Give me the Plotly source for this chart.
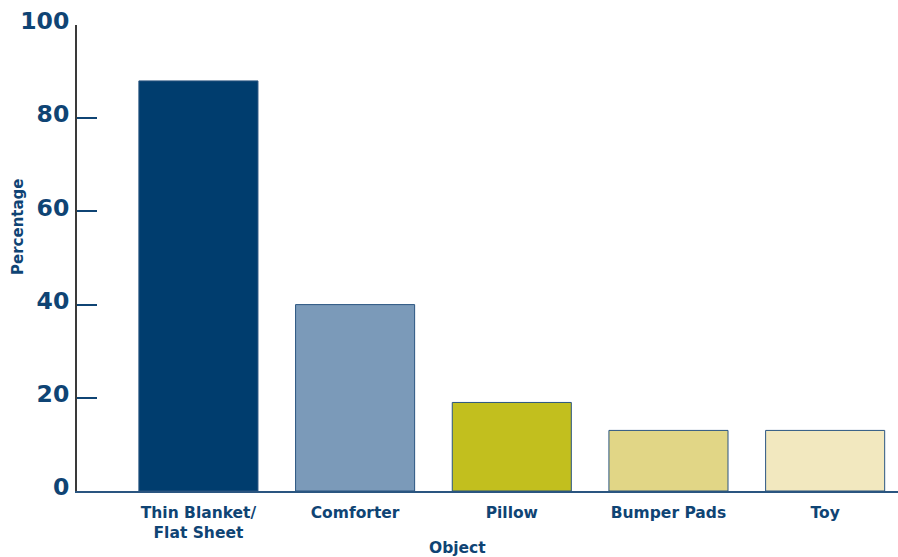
import plotly.graph_objects as go

# Objects found in infant sleep areas
objects = ["Thin Blanket/<br>Flat Sheet", "Comforter", "Pillow", "Bumper Pads", "Toy"]
percentages = [88, 40, 19, 13, 13]
bar_colors = ["#003D6E", "#7B9AB9", "#C2BF1E", "#E1D686", "#F2E8BF"]
y_ticks = [0, 20, 40, 60, 80, 100]

navy = "#0F4474"
font_family = "Verdana, DejaVu Sans, sans-serif"

fig = go.Figure(
    go.Bar(
        x=list(range(len(objects))),
        y=percentages,
        marker=dict(color=bar_colors, line=dict(color="#2A5580", width=1)),
        width=0.76,
        hoverinfo="skip",
    )
)

fig.update_layout(
    width=898,
    height=557,
    margin=dict(l=77, r=0, t=25, b=66),
    paper_bgcolor="white",
    plot_bgcolor="white",
    showlegend=False,
    font=dict(family=font_family, color=navy),
    xaxis=dict(
        range=[-0.775, 4.465],
        tickmode="array",
        tickvals=list(range(len(objects))),
        ticktext=[f"<b>{o}</b>" for o in objects],
        tickfont=dict(size=15.5, color=navy),
        ticks="",
        ticklabelstandoff=6,
        showline=True,
        linecolor="#2A5580",
        linewidth=2,
        showgrid=False,
        zeroline=False,
        fixedrange=True,
    ),
    yaxis=dict(
        range=[0, 100],
        tickmode="array",
        tickvals=y_ticks,
        ticktext=[f"<b>{t}</b>" for t in y_ticks],
        tickfont=dict(size=23.5, color=navy),
        ticks="inside",
        ticklen=20,
        tickwidth=2,
        tickcolor=navy,
        ticklabelstandoff=1,
        ticklabelshift=-4,
        showline=True,
        linecolor="#3A3A3A",
        linewidth=2,
        showgrid=False,
        zeroline=False,
        fixedrange=True,
    ),
    annotations=[
        dict(
            text="<b>Percentage</b>",
            x=18, y=227, xref="paper", yref="paper",
            showarrow=False, textangle=-90,
            font=dict(size=15, color=navy),
            xanchor="center", yanchor="middle",
        ),
        dict(
            text="<b>Object</b>",
            x=457, y=548, xref="paper", yref="paper",
            showarrow=False,
            font=dict(size=15.5, color=navy),
            xanchor="center", yanchor="middle",
        ),
    ],
)

# annotations positioned in pixel coordinates converted to paper fractions
plot_w = 898 - 77
plot_h = 557 - 25 - 66
for ann in fig.layout.annotations:
    ann.x = (ann.x - 77) / plot_w
    ann.y = (557 - 66 - ann.y) / plot_h

fig.write_html("out.html")
